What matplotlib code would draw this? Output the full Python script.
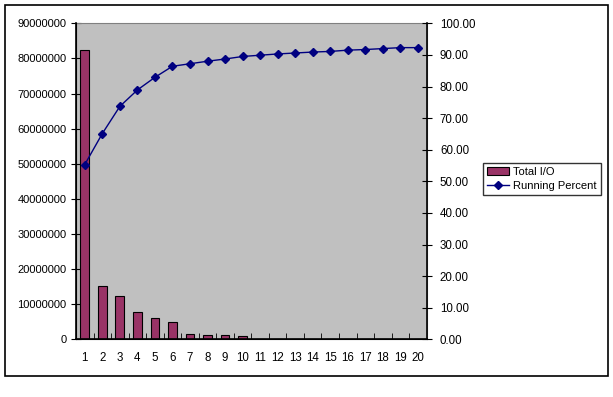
import numpy as np
import matplotlib.pyplot as plt
from matplotlib.patches import Rectangle

plt.rcParams['font.family'] = ['Liberation Sans', 'DejaVu Sans']

# Pareto data
positions = list(range(1, 21))
total_io = [82500000, 15100000, 12250000, 7700000, 6000000, 4800000,
            1400000, 1100000, 1100000, 800000, 200000, 200000, 200000,
            200000, 200000, 200000, 200000, 0, 0, 0]
running_pct = [55.3, 65.1, 73.7, 78.9, 82.9, 86.4, 87.2, 88.0, 88.7, 89.5,
               89.9, 90.3, 90.6, 90.9, 91.1, 91.5, 91.7, 92.0, 92.3, 92.3]

fig = plt.figure(figsize=(6.13, 3.97), dpi=100)
fig.patch.set_facecolor('white')

# outer chart border
fig.patches.append(Rectangle((5 / 613, 1 - 376 / 397), 603 / 613, 371 / 397,
                             transform=fig.transFigure, fill=False,
                             edgecolor='black', linewidth=1.2))

ax = fig.add_axes([76 / 613, 1 - 339.3 / 397, 350.7 / 613, 316 / 397])
ax.set_facecolor('#C0C0C0')
bars = ax.bar(positions, total_io, width=0.5, color='#993366',
              edgecolor='black', linewidth=0.8, label='Total I/O', zorder=2)
ax.set_xlim(0.5, 20.5)
ax.set_ylim(0, 90000000)
ax.set_yticks(np.arange(0, 90000001, 10000000))
ax.set_yticklabels([str(v) for v in range(0, 90000001, 10000000)])
ax.set_xticks(positions)
ax.set_xticklabels([str(p) for p in positions])
ax.set_xticks(np.arange(0.5, 21, 1), minor=True)
ax.tick_params(axis='x', which='major', length=0, pad=9, labelsize=8.3)
ax.tick_params(axis='x', which='minor', direction='in', length=4)
ax.tick_params(axis='y', direction='inout', length=7, labelsize=8)

for side in ['top', 'right']:
    ax.spines[side].set_color('#808080')
ax.spines['left'].set_linewidth(1.2)
ax.spines['bottom'].set_linewidth(1.2)

ax2 = ax.twinx()
line, = ax2.plot(positions, running_pct, color='#000080', linewidth=1,
                 marker='D', markersize=4, label='Running Percent')
ax2.set_ylim(0, 100)
ax2.set_yticks(np.arange(0, 101, 10))
ax2.set_yticklabels(['%.2f' % v for v in range(0, 101, 10)])
ax2.tick_params(axis='y', direction='inout', length=7, pad=6, labelsize=8.3)
ax2.spines['right'].set_linewidth(1.2)
ax2.spines['right'].set_color('black')
ax2.spines['top'].set_visible(False)

leg = fig.legend([bars, line], ['Total I/O', 'Running Percent'],
                 loc='upper left', bbox_to_anchor=(482.7 / 613, 1 - 162.7 / 397),
                 fontsize=8, frameon=True, fancybox=False, borderpad=0.4,
                 handlelength=2.0, handletextpad=0.3, labelspacing=0.35,
                 borderaxespad=0)
leg.get_frame().set_edgecolor('black')
leg.get_frame().set_linewidth(1)

fig.savefig('out.png', dpi=100)
